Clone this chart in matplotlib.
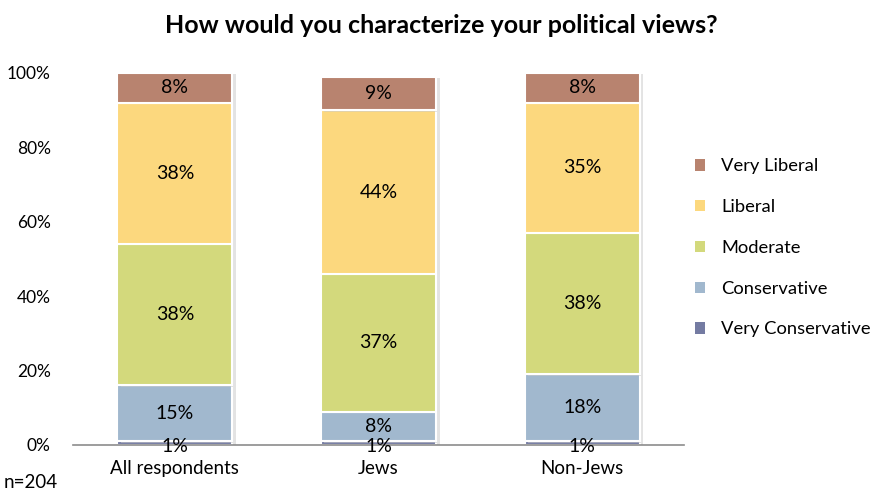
import matplotlib
matplotlib.use("Agg")
import matplotlib.pyplot as plt
import matplotlib.patheffects as pe
from matplotlib.patches import Patch

plt.rcParams['font.family'] = ['Lato', 'DejaVu Sans']

categories = ["All respondents", "Jews", "Non-Jews"]
series_names = ["Very Conservative", "Conservative", "Moderate", "Liberal", "Very Liberal"]
very_conservative = [1, 1, 1]
conservative = [15, 8, 18]
moderate = [38, 37, 38]
liberal = [38, 44, 35]
very_liberal = [8, 9, 8]
y_ticks = [0, 20, 40, 60, 80, 100]
y_tick_labels = ["0%", "20%", "40%", "60%", "80%", "100%"]

series = [very_conservative, conservative, moderate, liberal, very_liberal]
colors = ["#747BA2", "#A1B8CE", "#D3D97C", "#FCD87E", "#B8836F"]

fig = plt.figure(figsize=(8.83, 4.93), dpi=100)
ax = fig.add_axes([0.0827, 0.0974, 0.6919, 0.7546])

x = list(range(len(categories)))
bottoms = [0] * len(categories)
for name, vals, col in zip(series_names, series, colors):
    bars = ax.bar(x, vals, width=0.565, bottom=bottoms, color=col,
                  edgecolor="white", linewidth=1.5, label=name, zorder=3)
    for b in bars:
        b.set_path_effects([pe.SimplePatchShadow(offset=(2.5, -1), shadow_rgbFace="#c8c8c8", alpha=0.5),
                            pe.Normal()])
    for xi, v, b0 in zip(x, vals, bottoms):
        yc = b0 + v / 2
        if v < 3:
            yc = b0 + v / 2 - 0.8
        ax.text(xi, yc, f"{v}%", ha="center", va="center", fontsize=14,
                color="black", zorder=5)
    bottoms = [b0 + v for b0, v in zip(bottoms, vals)]

ax.set_xlim(-0.5, 2.5)
ax.set_ylim(0, 100)
ax.set_yticks(y_ticks)
ax.set_yticklabels(y_tick_labels, fontsize=12.5)
ax.set_xticks(x)
ax.set_xticklabels(categories, fontsize=13.5)
ax.tick_params(axis="both", length=0)
ax.tick_params(axis="y", pad=16)
ax.tick_params(axis="x", pad=11)
for s in ["top", "right", "left"]:
    ax.spines[s].set_visible(False)
ax.spines["bottom"].set_color("#8c8c8c")
ax.spines["bottom"].set_linewidth(1.2)
ax.spines["bottom"].set_zorder(4)

fig.text(0.5, 0.949, "How would you characterize your political views?",
         ha="center", va="center", fontsize=18, fontweight="bold")
fig.text(0.004, 0.022, "n=204", ha="left", va="center", fontsize=13.5)

handles = [Patch(facecolor=c, edgecolor="none", label=n)
           for n, c in zip(series_names[::-1], colors[::-1])]
fig.legend(handles=handles, loc="center left", bbox_to_anchor=(0.768, 0.497),
           frameon=False, fontsize=13.2, handlelength=0.55, handleheight=0.55,
           handletextpad=0.9, labelspacing=1.35)

fig.savefig("out.png", dpi=100)
